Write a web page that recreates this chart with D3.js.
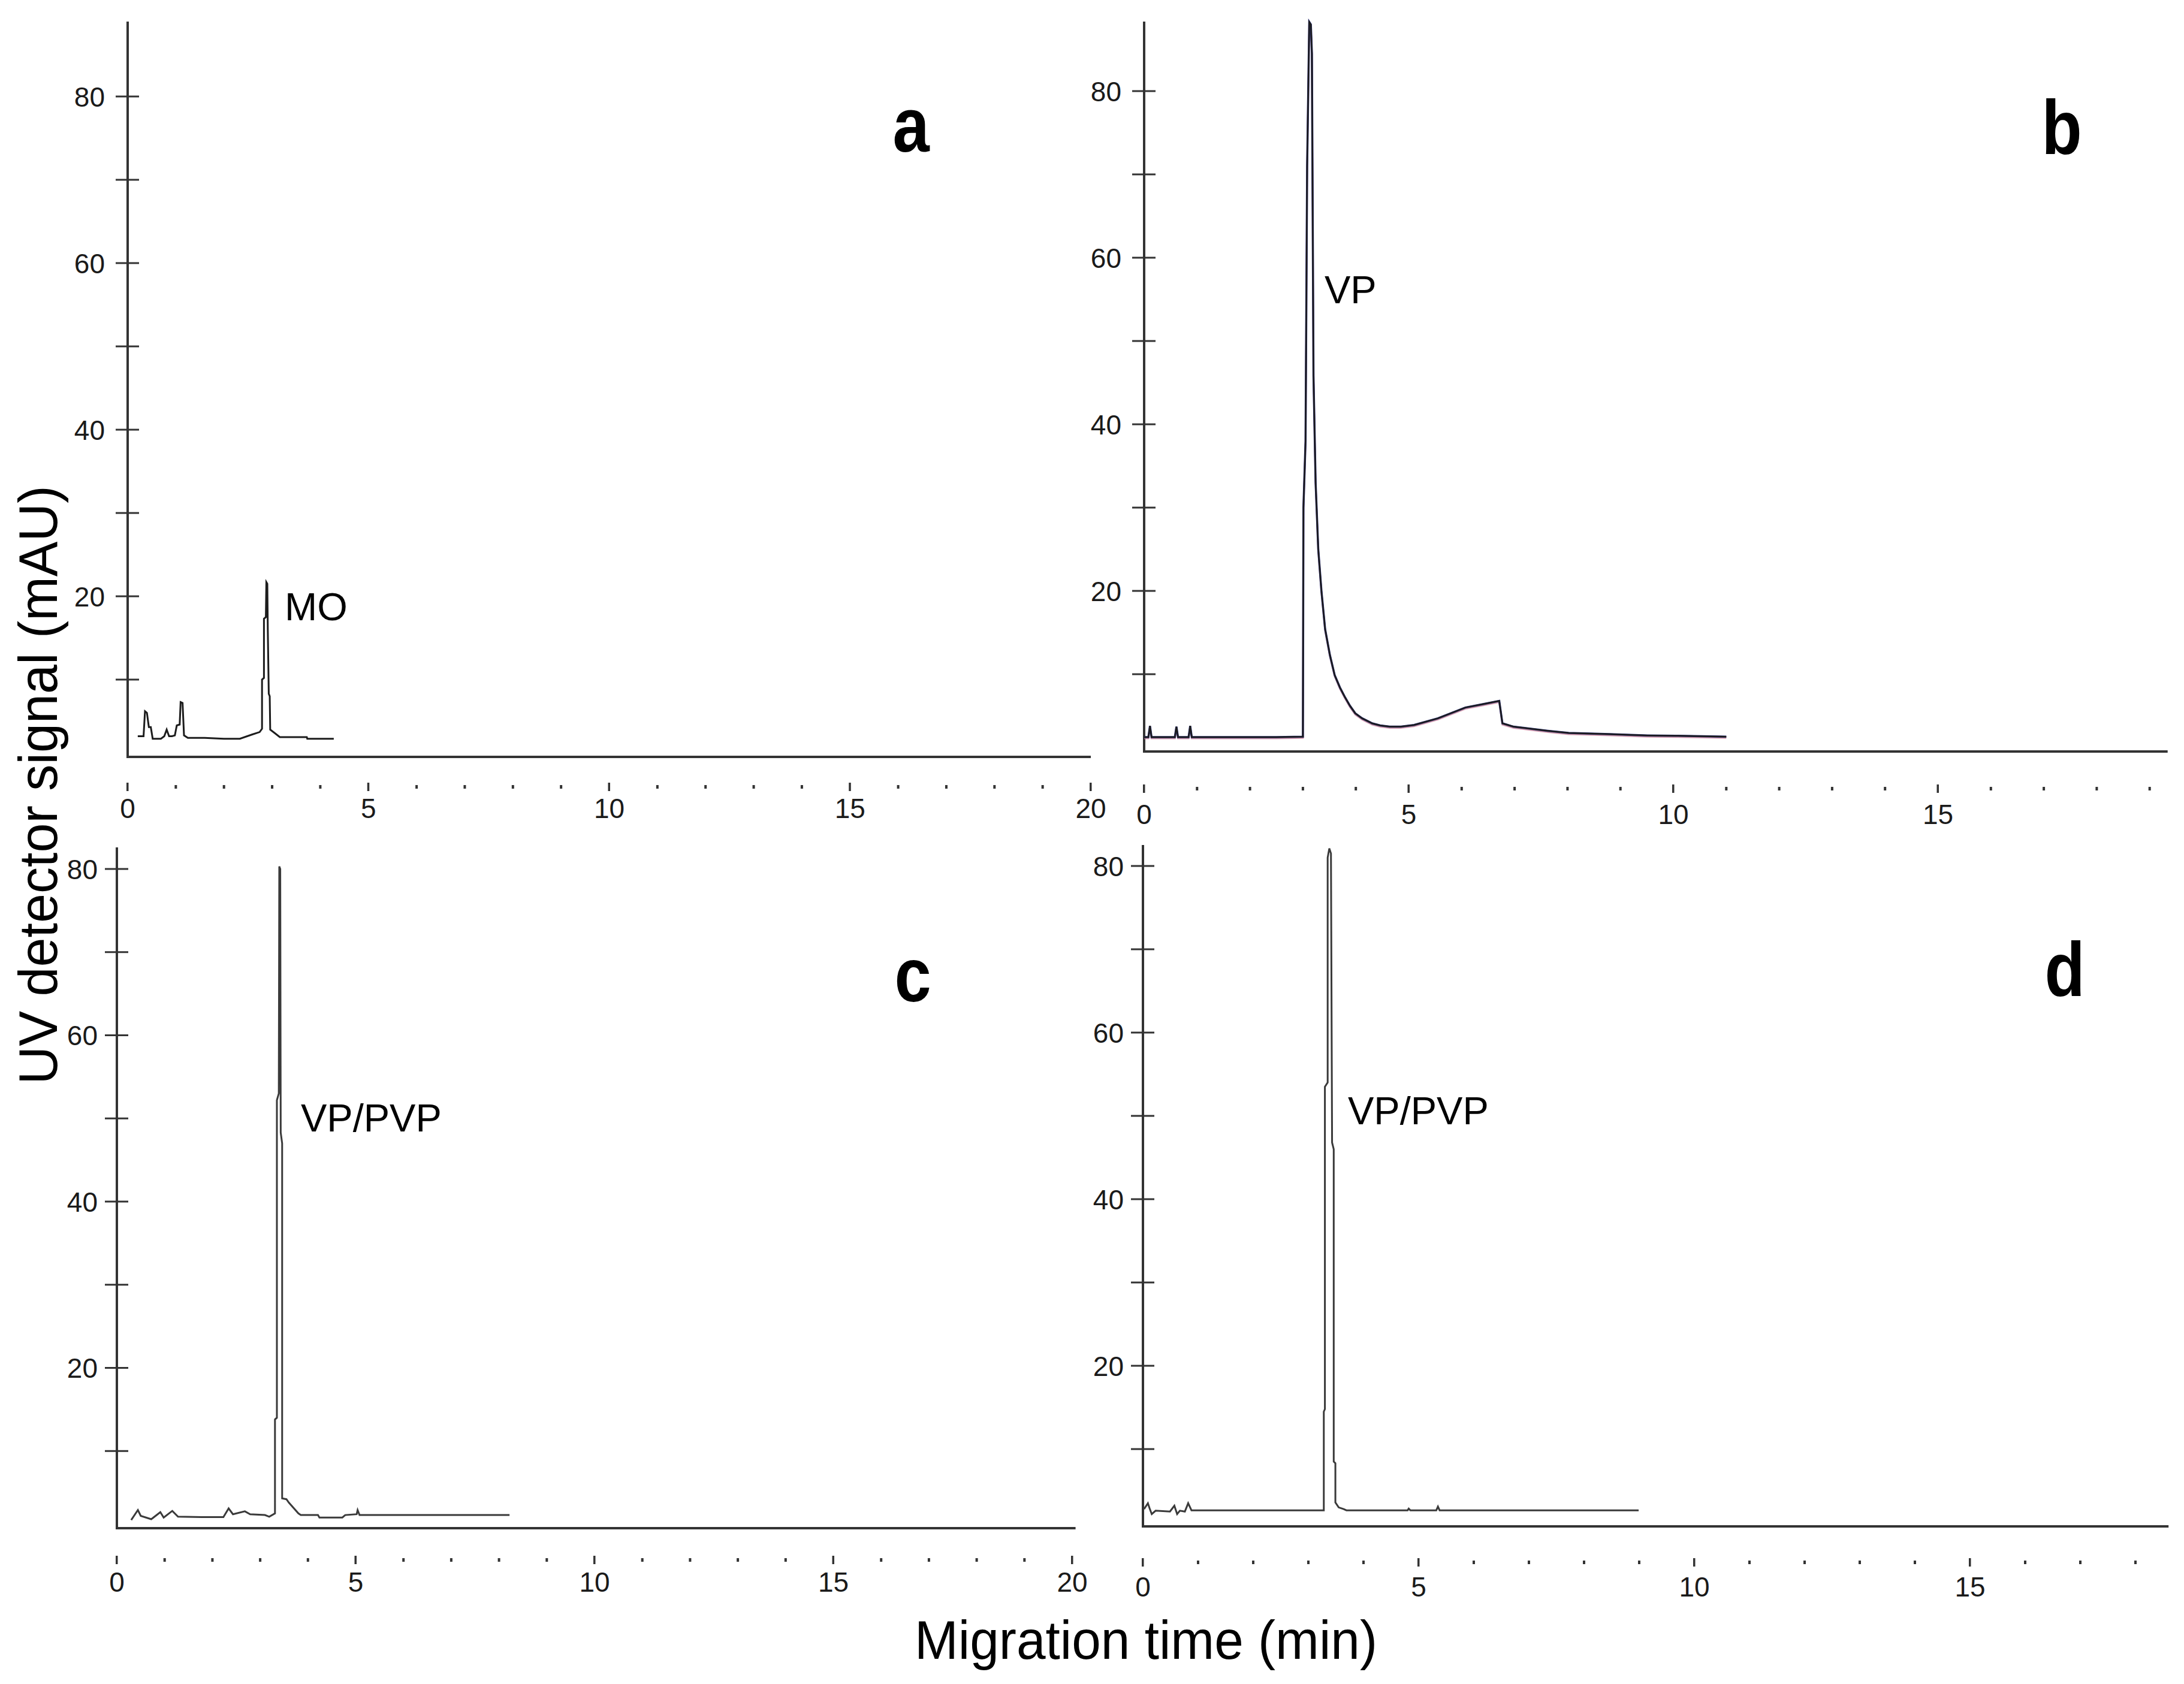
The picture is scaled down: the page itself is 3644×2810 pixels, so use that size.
<!DOCTYPE html>
<meta charset="utf-8">
<head>
  <title>Electropherograms a-d</title>
</head>
<style>
body { margin: 0; background: #fff; }
text { font-family: "Liberation Sans", Arial, sans-serif; fill: #1a1a1a; }
.trace { fill: none; stroke: #222; stroke-width: 3px; stroke-linejoin: miter; }
.axis-line { stroke: #333; stroke-width: 4px; }
.ytick { stroke: #333; stroke-width: 3px; }
.xdot { fill: #333; }
</style>
<body>
  <svg id="chart" width="3644" height="2810"></svg>
  <script src="https://cdnjs.cloudflare.com/ajax/libs/d3/7.8.5/d3.min.js"></script>
  <script>
// ---- data (minutes, mAU) ----
var timeA   = [0.21,0.33,0.36,0.40,0.44,0.48,0.52,0.69,0.76,0.81,0.86,0.92,0.98,1.02,1.08,1.10,1.14,1.17,1.25,1.60,2.00,2.33,2.58,2.74,2.79,2.79,2.83,2.83,2.87,2.88,2.90,2.91,2.93,2.95,2.96,3.05,3.16,3.72,3.73,4.28];
var signalA = [3.2,3.2,6.2,6.0,4.3,4.3,2.9,2.9,3.2,4.0,3.2,3.2,3.3,4.5,4.6,7.3,7.2,3.3,3.0,3.0,2.9,2.9,3.4,3.7,4.1,10.0,10.2,17.3,17.5,21.7,21.5,16.0,8.3,8.0,4.0,3.6,3.1,3.1,2.9,2.9];

var timeB   = [0.00,0.08,0.11,0.14,0.58,0.61,0.64,0.84,0.87,0.90,2.50,3.00,3.01,3.05,3.08,3.12,3.15,3.17,3.20,3.24,3.29,3.35,3.42,3.51,3.60,3.70,3.79,3.89,3.99,4.12,4.31,4.46,4.64,4.85,5.10,5.55,6.07,6.40,6.71,6.77,6.98,7.63,8.02,8.80,9.51,10.09,11.00];
var signalB = [2.45,2.45,3.8,2.45,2.45,3.7,2.45,2.45,3.8,2.45,2.45,2.5,30,38,71,88.3,88,84.5,45.8,33,25,20,15.4,12.3,9.9,8.4,7.3,6.2,5.3,4.7,4.1,3.85,3.7,3.7,3.9,4.7,6.0,6.4,6.8,4.1,3.7,3.2,2.95,2.8,2.65,2.6,2.5];

var timeC   = [0.30,0.44,0.50,0.72,0.91,0.98,1.16,1.28,1.78,2.23,2.34,2.43,2.68,2.79,3.10,3.19,3.31,3.31,3.35,3.35,3.39,3.40,3.42,3.43,3.46,3.46,3.55,3.60,3.80,3.85,4.21,4.24,4.72,4.78,5.02,5.04,5.08,8.22];
var signalC = [1.7,2.9,2.2,1.8,2.65,2.0,2.8,2.1,2.05,2.05,3.1,2.4,2.75,2.4,2.3,2.1,2.5,13.8,14.0,52.2,53.0,80.3,80.0,48.3,47.0,4.3,4.2,3.8,2.5,2.3,2.3,2.0,2.0,2.3,2.4,2.9,2.3,2.3];

var timeD   = [0.02,0.09,0.12,0.16,0.23,0.49,0.57,0.62,0.67,0.76,0.82,0.88,3.28,3.28,3.30,3.30,3.35,3.35,3.38,3.41,3.43,3.46,3.46,3.49,3.49,3.55,3.64,3.69,4.80,4.82,4.85,5.32,5.35,5.38,8.99];
var signalD = [2.8,3.5,2.9,2.2,2.6,2.5,3.2,2.2,2.6,2.5,3.5,2.65,2.65,14.5,14.8,53.5,54.0,81.0,82.1,81.5,46.8,46.0,8.5,8.3,3.6,3.0,2.8,2.65,2.65,2.85,2.65,2.65,3.1,2.65,2.65];

var yTickValues  = [10, 20, 30, 40, 50, 60, 70, 80];
var yTickLabels  = [20, 40, 60, 80];
var xTickLabelsA = [0, 5, 10, 15, 20];
var xTickLabelsB = [0, 5, 10, 15];
var xTickLabelsC = [0, 5, 10, 15, 20];
var xTickLabelsD = [0, 5, 10, 15];
var panelLetters = ["a", "b", "c", "d"];
var peakNames    = ["MO", "VP", "VP/PVP", "VP/PVP"];
var yAxisTitle = "UV detector signal (mAU)";
var xAxisTitle = "Migration time (min)";

// ---- layout of the four panels (pixels) ----
var panels = [
  {time: timeA, signal: signalA, labels: xTickLabelsA, xMax: 20,    xLeft: 213,  xPx: 80.35, y0: 1273, y80: 161,  axisY: 1263, topY: 36,   dotOff: 50, lblOff: 85,  lblGap: 38,
   letterX: 1520, letterY: 253,  peakX: 475,  peakY: 1035},
  {time: timeB, signal: signalB, labels: xTickLabelsB, xMax: 19.34, xLeft: 1909, xPx: 88.3,  y0: 1264, y80: 152,  axisY: 1254, topY: 36,   dotOff: 62, lblOff: 104, lblGap: 38,
   letterX: 3440, letterY: 257,  peakX: 2210, peakY: 506, tinted: true},
  {time: timeC, signal: signalC, labels: xTickLabelsC, xMax: 20.07, xLeft: 195,  xPx: 79.7,  y0: 2560, y80: 1450, axisY: 2550, topY: 1414, dotOff: 53, lblOff: 89,  lblGap: 32,
   letterX: 1523, letterY: 1671, peakX: 502,  peakY: 1888},
  {time: timeD, signal: signalD, labels: xTickLabelsD, xMax: 18.6,  xLeft: 1907, xPx: 92,    y0: 2557, y80: 1445, axisY: 2547, topY: 1410, dotOff: 60, lblOff: 100, lblGap: 32,
   letterX: 3445, letterY: 1662, peakX: 2249, peakY: 1876}
];

var svg = d3.select("#chart");
svg.append("rect").attr("width", 3644).attr("height", 2810).attr("fill", "#fff");

panels.forEach(function(p, i) {
  var x = d3.scaleLinear().domain([0, p.xMax]).range([p.xLeft, p.xLeft + p.xMax * p.xPx]);
  var y = d3.scaleLinear().domain([0, 80]).range([p.y0, p.y80]);
  var g = svg.append("g");

  // axes
  g.append("line").attr("class", "axis-line")
    .attr("x1", x(0)).attr("x2", x(0)).attr("y1", p.topY).attr("y2", p.axisY + 2);
  g.append("line").attr("class", "axis-line")
    .attr("x1", x(0) - 2).attr("x2", x(p.xMax)).attr("y1", p.axisY).attr("y2", p.axisY);

  // y ticks crossing the axis
  g.selectAll("line.ytick")
    .data(yTickValues)
    .enter().append("line").classed("ytick", true)
    .attr("x1", x(0) - 20).attr("x2", x(0) + 19)
    .attr("y1", function(d) { return y(d); })
    .attr("y2", function(d) { return y(d); });
  g.selectAll("text.ylab")
    .data(yTickLabels)
    .enter().append("text").classed("ylab", true)
    .attr("x", x(0) - p.lblGap)
    .attr("y", function(d) { return y(d); })
    .attr("dy", "0.36em")
    .attr("text-anchor", "end")
    .attr("font-size", 46)
    .text(function(d) { return d; });

  // x ticks: a dotted row under the axis, taller marks every 5 min
  var minutes = d3.range(0, Math.floor(p.xMax + 0.01) + 1);
  g.selectAll("rect.xdot")
    .data(minutes)
    .enter().append("rect").classed("xdot", true)
    .attr("x", function(d) { return x(d) - 2; })
    .attr("width", function(d) { return d % 5 === 0 ? 3.5 : 4; })
    .attr("y", function(d) { return p.axisY + p.dotOff - (d % 5 === 0 ? 7 : 3); })
    .attr("height", function(d) { return d % 5 === 0 ? 14 : 6; });
  g.selectAll("text.xlab")
    .data(p.labels)
    .enter().append("text").classed("xlab", true)
    .attr("x", function(d) { return x(d); })
    .attr("y", p.axisY + p.lblOff)
    .attr("dy", "0.36em")
    .attr("text-anchor", "middle")
    .attr("font-size", 46)
    .text(function(d) { return d; });

  // trace
  var pts = p.time.map(function(t, k) { return [t, p.signal[k]]; });
  var line = d3.line().x(function(d) { return x(d[0]); }).y(function(d) { return y(d[1]); });
  if (p.tinted) {
    g.append("path").datum(pts).attr("class", "trace")
      .attr("transform", "translate(0,2)")
      .style("stroke", "#c0708a").style("stroke-width", "3px").style("opacity", 0.7)
      .attr("d", line);
    g.append("path").datum(pts).attr("class", "trace")
      .style("stroke", "#2a2f7a").style("stroke-width", "3.5px")
      .attr("d", line);
  }
  g.append("path").datum(pts).attr("class", "trace")
    .style("stroke", i >= 2 ? "#3a3a3a" : "#1c1c1c")
    .style("stroke-width", p.tinted ? "2.5px" : "3px")
    .attr("d", line);

  // labels
  g.append("text")
    .attr("transform", "translate(" + p.letterX + "," + p.letterY + ") scale(0.86,1)")
    .attr("text-anchor", "middle")
    .attr("font-size", 128)
    .attr("font-weight", "bold")
    .style("fill", "#000")
    .text(panelLetters[i]);
  g.append("text")
    .attr("x", p.peakX).attr("y", p.peakY)
    .attr("font-size", 65)
    .style("fill", "#000")
    .text(peakNames[i]);
});

svg.append("text")
  .attr("transform", "translate(95,1310) rotate(-90)")
  .attr("text-anchor", "middle")
  .attr("font-size", 91)
  .attr("textLength", 999).attr("lengthAdjust", "spacingAndGlyphs")
  .style("fill", "#000")
  .text(yAxisTitle);
svg.append("text")
  .attr("x", 1912).attr("y", 2768)
  .attr("text-anchor", "middle")
  .attr("font-size", 91)
  .attr("textLength", 772).attr("lengthAdjust", "spacingAndGlyphs")
  .style("fill", "#000")
  .text(xAxisTitle);
  </script>
</body>
